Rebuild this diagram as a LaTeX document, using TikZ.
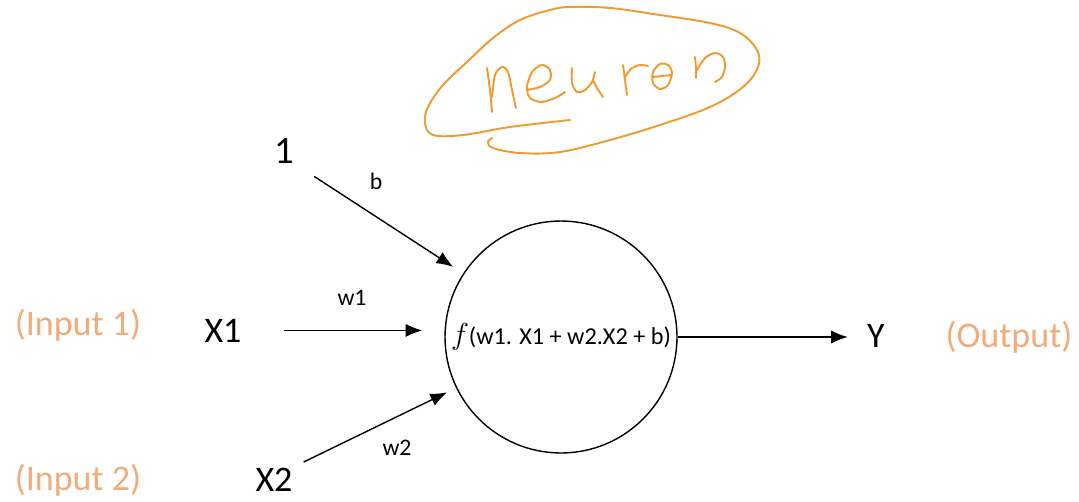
\documentclass[tikz,border=0pt]{standalone}
\usepackage{fontspec}
\setmainfont{Carlito}
\usepackage{tikz}
\usetikzlibrary{
  arrows.meta,%
  calc,%
  positioning
}
\definecolor{penorange}{RGB}{242,154,46}
\definecolor{noteorange}{RGB}{240,172,122}
\tikzset{>={Latex[length=9.5pt,width=7.5pt]}}
\tikzset{
  bigtext/.style={inner sep=0pt, anchor=base, font=\fontsize{20.5}{24}\selectfont},
  smalltext/.style={inner sep=0pt, anchor=base, font=\fontsize{13.5}{16}\selectfont},
  notetext/.style={inner sep=0pt, anchor=base, text=noteorange, font=\fontsize{20.5}{24}\selectfont},
  pen/.style={penorange, line width=1.1pt, line cap=round, line join=round},
  link/.style={->, line width=0.8pt}
}

\begin{document}
\begin{tikzpicture}[x=0.02cm, y=-0.02cm]
  \useasboundingbox (0,0) rectangle (1079,501);

  % the neuron and its inputs
  \node[circle, draw, line width=0.8pt, minimum size=4.64cm, inner sep=0pt,
        font=\fontsize{13.8}{16}\selectfont] (neuron) at (561,337)
        {{\fontsize{19}{19}\selectfont$f$}(w1. X1 + w2.X2 + b)};
  \node[bigtext, font=\fontsize{22}{26}\selectfont] (one) at (284,163) {1};
  \node[bigtext] (xone) at (223,342) {X1};
  \node[bigtext] (xtwo) at (274,491) {X2};
  \node[bigtext] (yout) at (876,347) {Y};

  \node[smalltext] (bias) at (376,189) {b};
  \node[smalltext] (wone) at (352,305) {w1};
  \node[smalltext] (wtwo) at (397,455) {w2};

  \node[notetext] (inone) at (78,335) {(Input 1)};
  \node[notetext] (intwo) at (78,490) {(Input 2)};
  \node[notetext] (outnote) at (1009,347) {(Output)};

  \draw[link, shorten <=0.48cm, shorten >=0.24cm] (one.south east) -- (neuron);
  \draw[link, shorten <=0.84cm, shorten >=0.44cm] (xone.east) -- (xone.east -| neuron.west);
  \draw[link, shorten <=0.24cm, shorten >=0.2cm] (xtwo.north east) -- (neuron);
  \draw[link, shorten >=0.38cm] (neuron.east) -- (neuron.east -| yout.west);

  % handwritten note
  \draw[pen] plot[smooth, tension=0.6] coordinates {
    (570,120) (510,127) (463,135) (433,135) (425,123) (428,107) (443,85)
    (467,62) (493,38) (520,20) (550,10) (570,7) (610,8) (660,15) (710,23)
    (740,33) (757,50) (758,67) (743,87) (710,107) (660,125) (610,140)
    (560,152) (520,153) (493,148) (488,142) (492,138)};
  \draw[pen] plot[smooth] coordinates {(487,68) (490,90) (492,112)};
  \draw[pen] plot[smooth] coordinates {(492,97) (495,75) (502,67) (508,72) (512,90) (516,108)};
  \draw[pen] plot[smooth] coordinates {(527,90) (540,87) (550,80) (550,70) (542,65)
    (532,72) (527,87) (530,98) (542,102) (557,97) (565,92)};
  \draw[pen] plot[smooth] coordinates {(572,68) (572,83) (577,92) (585,90) (592,82) (595,72)};
  \draw[pen] plot[smooth] coordinates {(593,80) (597,88) (603,97)};
  \draw[pen] plot[smooth] coordinates {(623,65) (625,80) (627,95)};
  \draw[pen] plot[smooth] coordinates {(625,77) (632,68) (640,65) (648,66)};
  \draw[pen] plot[smooth cycle] coordinates {(660,64) (653,72) (653,83) (660,89) (668,85) (672,73) (668,65)};
  \draw[pen] (653,77) -- (671,75);
  \draw[pen] plot[smooth] coordinates {(695,57) (696,68) (696,78)};
  \draw[pen] plot[smooth] coordinates {(697,70) (705,58) (715,53) (723,57) (725,67) (722,77) (715,82)};
\end{tikzpicture}
\end{document}
